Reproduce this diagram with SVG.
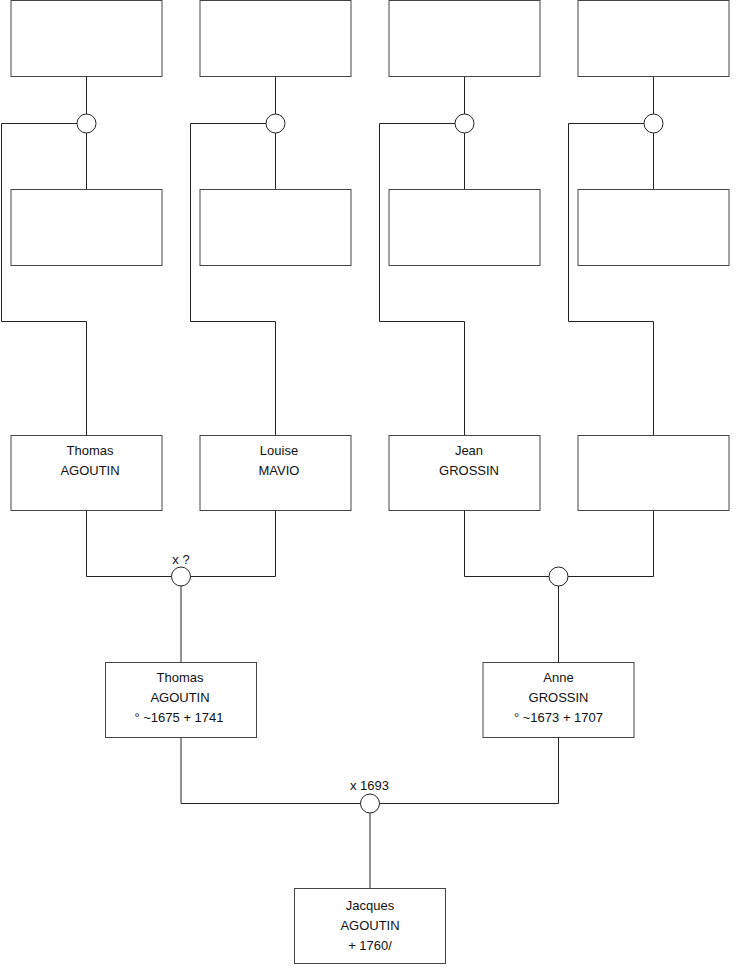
<svg xmlns="http://www.w3.org/2000/svg" width="740" height="975" viewBox="0 0 740 975">
<style>
.box{fill:#fff;stroke:#444;stroke-width:1}
.j{fill:#fff;stroke:#222;stroke-width:1}
.c{fill:none;stroke:#222;stroke-width:1}
text{font-family:"Liberation Sans",Arial,sans-serif;font-size:13px;fill:#111;text-anchor:middle}
</style>
<rect width="740" height="975" fill="#fff"/>
<g id="connectors">
<path class="c" d="M86.5 76.5V114M86.5 133V189.5M77 123.5H1.5V321.5H86.5V435.5"/>
<path class="c" d="M275.5 76.5V114M275.5 133V189.5M266 123.5H190.5V321.5H275.5V435.5"/>
<path class="c" d="M464.5 76.5V114M464.5 133V189.5M455 123.5H379.5V321.5H464.5V435.5"/>
<path class="c" d="M653.5 76.5V114M653.5 133V189.5M644 123.5H568.5V321.5H653.5V435.5"/>
<path class="c" d="M86.5 510.5V576.5H275.5V510.5M181 586V662.5"/>
<path class="c" d="M464.5 510.5V576.5H653.5V510.5M558.5 586V662.5"/>
<path class="c" d="M181 737.5V803.5H558.5V737.5M370 813V888.5"/>
</g>
<g id="n_top1"><rect class="box" x="11" y="0.5" width="151" height="76"/></g>
<g id="n_top2"><rect class="box" x="200" y="0.5" width="151" height="76"/></g>
<g id="n_top3"><rect class="box" x="389" y="0.5" width="151" height="76"/></g>
<g id="n_top4"><rect class="box" x="578" y="0.5" width="151" height="76"/></g>
<g id="u_top1"><circle class="j" cx="86.5" cy="123.5" r="9.5"/></g>
<g id="u_top2"><circle class="j" cx="275.5" cy="123.5" r="9.5"/></g>
<g id="u_top3"><circle class="j" cx="464.5" cy="123.5" r="9.5"/></g>
<g id="u_top4"><circle class="j" cx="653.5" cy="123.5" r="9.5"/></g>
<g id="n_mid1"><rect class="box" x="11" y="189.5" width="151" height="76"/></g>
<g id="n_mid2"><rect class="box" x="200" y="189.5" width="151" height="76"/></g>
<g id="n_mid3"><rect class="box" x="389" y="189.5" width="151" height="76"/></g>
<g id="n_mid4"><rect class="box" x="578" y="189.5" width="151" height="76"/></g>
<g id="n_thomas1"><rect class="box" x="11" y="435.5" width="151" height="75"/><text x="90" y="455">Thomas</text><text x="90" y="475">AGOUTIN</text></g>
<g id="n_louise"><rect class="box" x="200" y="435.5" width="151" height="75"/><text x="279" y="455">Louise</text><text x="279" y="475">MAVIO</text></g>
<g id="n_jean"><rect class="box" x="389" y="435.5" width="151" height="75"/><text x="469" y="455">Jean</text><text x="469" y="475">GROSSIN</text></g>
<g id="n_gen3_4"><rect class="box" x="578" y="435.5" width="151" height="75"/></g>
<g id="u_left"><circle class="j" cx="181" cy="576.5" r="9.5"/><text x="181" y="564">x ?</text></g>
<g id="u_right"><circle class="j" cx="558.5" cy="576.5" r="9.5"/></g>
<g id="n_thomas2"><rect class="box" x="105.5" y="662.5" width="151" height="75"/><text x="180" y="682">Thomas</text><text x="180" y="702">AGOUTIN</text><text x="179" y="722">° ~1675 + 1741</text></g>
<g id="n_anne"><rect class="box" x="483" y="662.5" width="151" height="75"/><text x="558.5" y="682">Anne</text><text x="558.5" y="702">GROSSIN</text><text x="558.5" y="722">° ~1673 + 1707</text></g>
<g id="u_bottom"><circle class="j" cx="370" cy="803.5" r="9.5"/><text x="369.5" y="790">x 1693</text></g>
<g id="n_jacques"><rect class="box" x="294.5" y="888.5" width="151" height="75"/><text x="370" y="910">Jacques</text><text x="370" y="930">AGOUTIN</text><text x="370" y="950">+ 1760/</text></g>
</svg>
